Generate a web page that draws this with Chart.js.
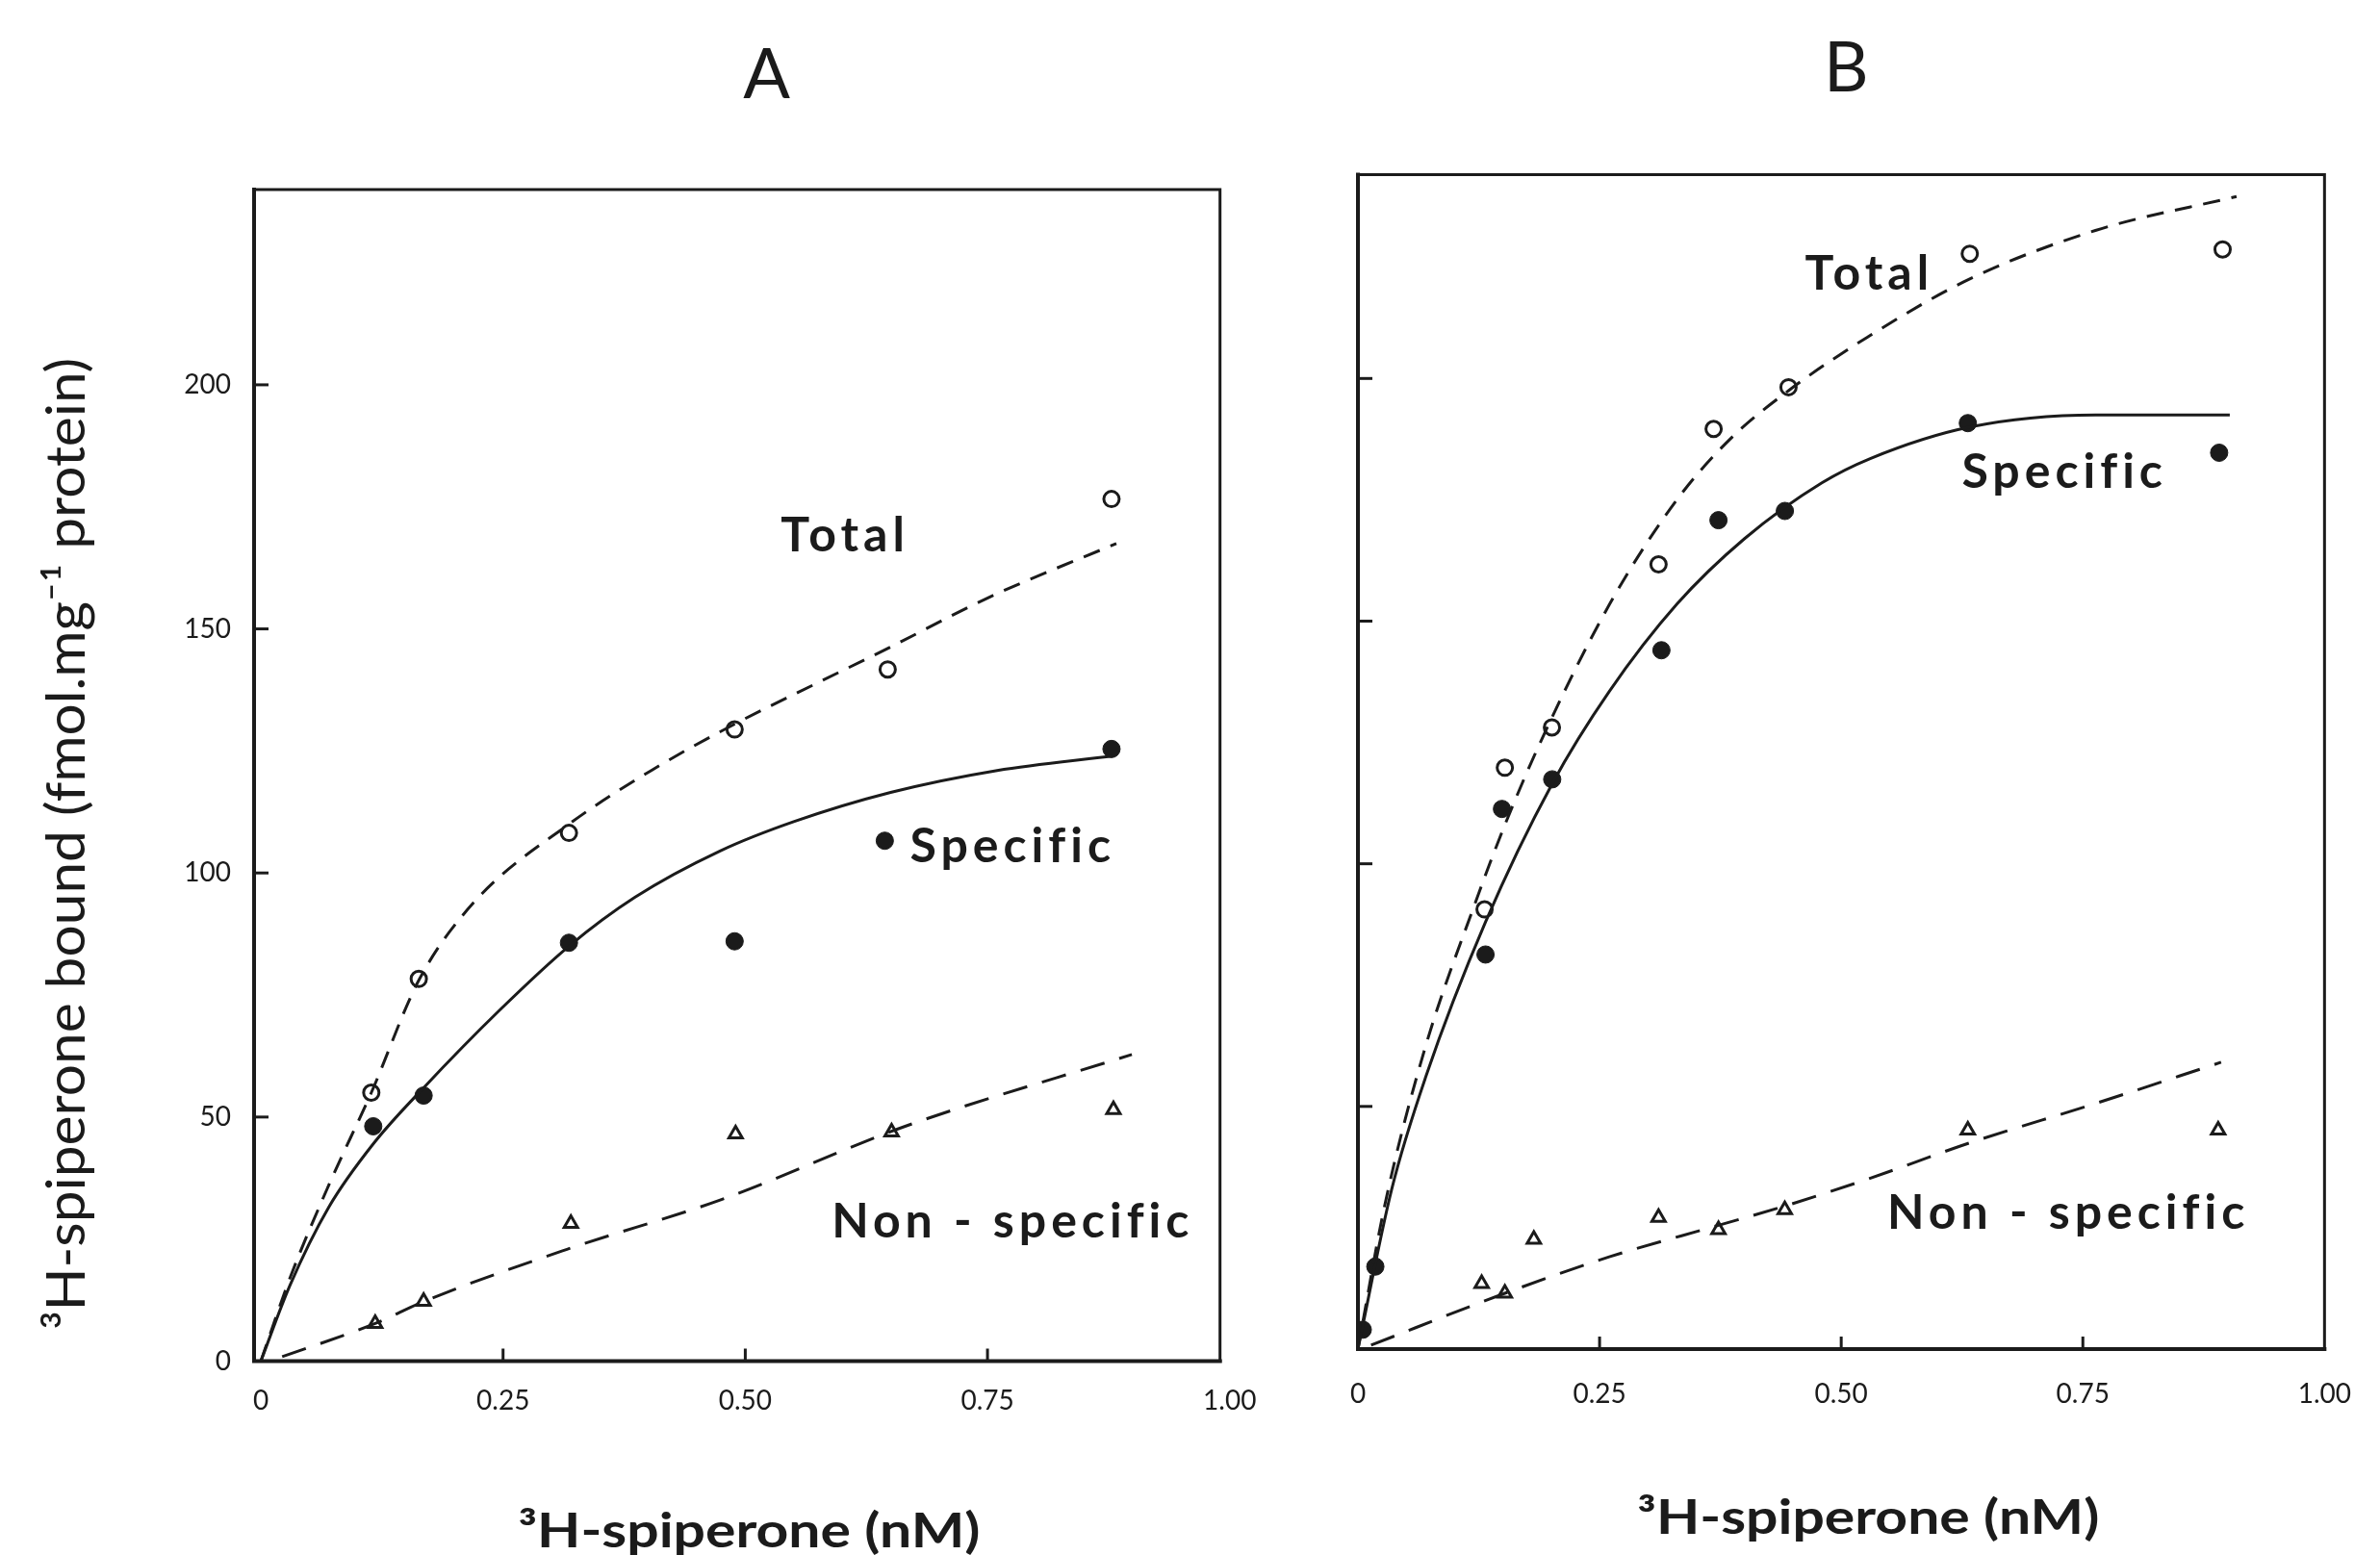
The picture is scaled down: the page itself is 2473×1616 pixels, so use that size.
<!DOCTYPE html>
<html>
<head>
<meta charset="utf-8">
<script src="https://cdn.jsdelivr.net/npm/chart.js@4.4.1/dist/chart.umd.min.js"></script>
<style>
  html, body { margin: 0; padding: 0; background: #fff; }
  body { width: 2473px; height: 1616px; position: relative; overflow: hidden; }
  .panel { position: absolute; top: 0; height: 1616px; }
  #panelA { left: 0; width: 1330px; }
  #panelB { left: 1330px; width: 1143px; }
</style>
</head>
<body>
<div class="panel" id="panelA"><canvas id="chartA"></canvas></div>
<div class="panel" id="panelB"><canvas id="chartB"></canvas></div>
<script>
'use strict';
// axis ticks
const xTicks = [0, 0.25, 0.5, 0.75, 1.0];
const xTickLabels = ['0', '0.25', '0.50', '0.75', '1.00'];
const yTicks = [0, 50, 100, 150, 200];
const yTickLabels = ['0', '50', '100', '150', '200'];
const xTitle = '³H-spiperone (nM)';
const yTitle = '³H-spiperone bound (fmol.mg⁻¹ protein)';

// Panel A - measured points (nM, fmol/mg protein)
const concA_total = [0.114, 0.163, 0.318, 0.489, 0.647, 0.878];
const boundA_total = [55.0, 78.3, 108.2, 129.4, 141.7, 176.6];
const concA_spec = [0.116, 0.168, 0.318, 0.489, 0.644, 0.878];
const boundA_spec = [48.1, 54.4, 85.7, 86.0, 106.6, 125.4];
const concA_non = [0.118, 0.168, 0.320, 0.490, 0.651, 0.880];
const boundA_non = [7.7, 12.2, 28.2, 46.5, 46.9, 51.5];

// Panel A - fitted curves
const fitA_total_x = [0, 0.03, 0.07, 0.114, 0.163, 0.22, 0.318, 0.403, 0.489, 0.57, 0.647, 0.752, 0.883];
const fitA_total_y = [0, 17, 36, 55, 78, 94, 110, 121, 130.5, 138.5, 146, 156.5, 167.5];
const fitA_spec_x = [0, 0.03, 0.07, 0.116, 0.168, 0.247, 0.318, 0.386, 0.474, 0.55, 0.65, 0.76, 0.88];
const fitA_spec_y = [0, 15.5, 31.5, 44.5, 56, 72, 85, 95, 104.5, 110.5, 116.5, 121, 124];
const fitA_non_x = [0.022, 0.118, 0.168, 0.316, 0.474, 0.665, 0.899];
const fitA_non_y = [0.9, 7.7, 12.2, 22.9, 33.0, 48.1, 62.8];

// Panel B - measured points
const concB_total = [0.131, 0.152, 0.2007, 0.311, 0.368, 0.4455, 0.633, 0.8946];
const boundB_total = [90.6, 119.8, 128.1, 161.7, 189.6, 198.2, 225.7, 226.6];
const concB_spec = [0.005, 0.018, 0.132, 0.149, 0.201, 0.314, 0.373, 0.4417, 0.631, 0.891];
const boundB_spec = [4, 17, 81.3, 111.3, 117.4, 144, 170.8, 172.7, 190.8, 184.7];
const concB_non = [0.128, 0.152, 0.182, 0.311, 0.373, 0.4416, 0.631, 0.890];
const boundB_non = [13.5, 11.5, 22.6, 27.1, 24.6, 28.7, 45.1, 45.1];

// Panel B - fitted curves
const fitB_total_x = [0, 0.0276, 0.0694, 0.1215, 0.152, 0.191, 0.2604, 0.33, 0.385, 0.4455, 0.527, 0.633, 0.763, 0.909];
const fitB_total_y = [0, 29.5, 62, 92, 108, 126, 153.5, 175, 187.5, 197.5, 208.5, 220.5, 230.5, 237.5];
const fitB_spec_x = [0, 0.035, 0.07, 0.132, 0.201, 0.26, 0.33, 0.4, 0.48, 0.53, 0.633, 0.763, 0.902];
const fitB_spec_y = [0, 33, 56, 88, 116.5, 135.5, 153.5, 167, 178.5, 183.5, 190, 192.5, 192.5];
const fitB_non_x = [0.0136, 0.152, 0.26, 0.373, 0.442, 0.527, 0.633, 0.763, 0.893];
const fitB_non_y = [0.8, 11.5, 19, 25.5, 29.5, 35, 42.5, 50.6, 59.1];

// curve labels, anchored in data units
const curveLabels = ['Total', 'Specific', 'Non - specific'];
const labelA_x = [0.603, 0.776, 0.776];
const labelA_y = [169, 105.3, 28.6];
const labelB_x = [0.529, 0.731, 0.735];
const labelB_y = [221.6, 180.6, 27.9];

const INK = '#1b1b1b';
const FONT = 'Lato, "Open Sans", sans-serif';

function pts(xs, ys) {
  return xs.map((x, i) => ({x: x, y: ys[i]}));
}

// write centred text stretched to a given length
function stretchedText(ctx, txt, x, y, len) {
  const w = ctx.measureText(txt).width;
  ctx.save();
  ctx.translate(x, y);
  ctx.scale(len / w, 1);
  ctx.textAlign = 'center';
  ctx.fillText(txt, 0, 0);
  ctx.restore();
}

// box, inward ticks, curve labels, axis titles and panel letter
const framePlugin = {
  id: 'frame',
  afterDatasetsDraw(chart, args, o) {
    const ctx = chart.ctx;
    const a = chart.chartArea;
    const xs = chart.scales.x, ys = chart.scales.y;
    ctx.save();
    ctx.strokeStyle = INK;
    ctx.lineCap = 'square';
    ctx.lineWidth = 4;
    ctx.beginPath();
    ctx.moveTo(a.left, a.top);
    ctx.lineTo(a.left, a.bottom);
    ctx.lineTo(a.right, a.bottom);
    ctx.stroke();
    ctx.lineWidth = 3;
    ctx.beginPath();
    ctx.moveTo(a.left, a.top);
    ctx.lineTo(a.right, a.top);
    ctx.lineTo(a.right, a.bottom);
    ctx.stroke();

    ctx.lineCap = 'butt';
    xs.ticks.forEach(t => {
      if (t.value <= xs.min + 0.02 || t.value >= xs.max) return;
      const px = xs.getPixelForValue(t.value);
      ctx.beginPath(); ctx.moveTo(px, a.bottom); ctx.lineTo(px, a.bottom - 13); ctx.stroke();
    });
    ys.ticks.forEach(t => {
      if (t.value <= ys.min || t.value >= ys.max) return;
      const py = ys.getPixelForValue(t.value);
      ctx.beginPath(); ctx.moveTo(a.left, py); ctx.lineTo(a.left + 15, py); ctx.stroke();
    });

    ctx.fillStyle = INK;
    ctx.textAlign = 'center';
    ctx.textBaseline = 'middle';
    ctx.font = 'bold 50px ' + FONT;
    ctx.letterSpacing = '5px';
    o.labels.forEach((txt, i) => {
      ctx.fillText(txt, xs.getPixelForValue(o.lx[i]), ys.getPixelForValue(o.ly[i]));
    });
    ctx.letterSpacing = '0px';
    ctx.font = '72px ' + FONT;
    ctx.fillText(o.letter, xs.getPixelForValue(o.letterX), a.top - o.letterRise);

    // x axis title
    ctx.font = 'bold 50px ' + FONT;
    stretchedText(ctx, xTitle, xs.getPixelForValue(o.xTitleX), a.bottom + o.xTitleDrop, 480);

    // y axis title, rotated
    if (o.yTitleOn) {
      ctx.save();
      ctx.translate(a.left - o.yTitleGap, ys.getPixelForValue(o.yTitleY));
      ctx.rotate(-Math.PI / 2);
      ctx.font = '56px ' + FONT;
      stretchedText(ctx, yTitle, 0, 0, 1010);
      ctx.restore();
    }
    ctx.restore();
  }
};

function makePanel(id, cfg) {
  const tickFont = {family: FONT, size: 28};
  const datasets = [
    {data: pts(cfg.fitTotal[0], cfg.fitTotal[1]), showLine: true, pointRadius: 0, borderColor: INK,
     borderWidth: 3, borderDash: [18, 12], cubicInterpolationMode: 'monotone', fill: false},
    {data: pts(cfg.fitSpec[0], cfg.fitSpec[1]), showLine: true, pointRadius: 0, borderColor: INK,
     borderWidth: 3, cubicInterpolationMode: 'monotone', fill: false},
    {data: pts(cfg.fitNon[0], cfg.fitNon[1]), showLine: true, pointRadius: 0, borderColor: INK,
     borderWidth: 3, borderDash: [26, 16], cubicInterpolationMode: 'monotone', fill: false},
    {data: pts(cfg.total[0], cfg.total[1]), pointStyle: 'circle', pointRadius: 8,
     pointBackgroundColor: '#fff', pointBorderColor: INK, pointBorderWidth: 3},
    {data: pts(cfg.spec[0], cfg.spec[1]), pointStyle: 'circle', pointRadius: 9,
     pointBackgroundColor: INK, pointBorderColor: INK, pointBorderWidth: 1},
    {data: pts(cfg.non[0], cfg.non[1]), pointStyle: 'triangle', pointRadius: 8,
     pointBackgroundColor: '#fff', pointBorderColor: INK, pointBorderWidth: 3}
  ];
  return new Chart(document.getElementById(id), {
    type: 'scatter',
    data: {datasets: datasets},
    plugins: [framePlugin],
    options: {
      responsive: true,
      maintainAspectRatio: false,
      animation: false,
      layout: {padding: {top: cfg.top, right: cfg.right, bottom: 0, left: 0}},
      plugins: {
        legend: {display: false},
        tooltip: {enabled: false},
        frame: {labels: curveLabels, lx: cfg.lx, ly: cfg.ly, letter: cfg.letter,
                letterX: cfg.letterX, letterRise: cfg.letterRise,
                xTitleX: cfg.xTitleX, xTitleDrop: cfg.xTitleDrop,
                yTitleOn: cfg.yLabels, yTitleY: 106, yTitleGap: 194}
      },
      scales: {
        x: {
          type: 'linear', min: cfg.xMin, max: cfg.xMax,
          afterBuildTicks: s => { s.ticks = xTicks.map(v => ({value: v})); },
          afterFit: s => { s.height = cfg.xHeight; },
          grid: {display: false, drawTicks: false},
          border: {display: false},
          ticks: {padding: cfg.xPad, font: tickFont, color: INK, maxRotation: 0, autoSkip: false,
                  callback: (v, i) => xTickLabels[i]}
        },
        y: {
          type: 'linear', min: 0, max: cfg.yMax,
          afterBuildTicks: s => { s.ticks = yTicks.map(v => ({value: v})); },
          afterFit: s => { s.width = cfg.yWidth; },
          grid: {display: false, drawTicks: false},
          border: {display: false},
          ticks: {display: cfg.yLabels, padding: 24, font: tickFont, color: INK,
                  callback: (v, i) => yTickLabels[i]}
        }
      }
    }
  });
}

makePanel('chartA', {
  total: [concA_total, boundA_total], spec: [concA_spec, boundA_spec], non: [concA_non, boundA_non],
  fitTotal: [fitA_total_x, fitA_total_y], fitSpec: [fitA_spec_x, fitA_spec_y], fitNon: [fitA_non_x, fitA_non_y],
  lx: labelA_x, ly: labelA_y, letter: 'A', letterX: 0.522, letterRise: 118,
  xTitleX: 0.504, xTitleDrop: 177,
  xMin: -0.007, xMax: 0.99, yMax: 240, top: 197, right: 42, xHeight: 201.5, yWidth: 264,
  xPad: 25, yLabels: true
});

makePanel('chartB', {
  total: [concB_total, boundB_total], spec: [concB_spec, boundB_spec], non: [concB_non, boundB_non],
  fitTotal: [fitB_total_x, fitB_total_y], fitSpec: [fitB_spec_x, fitB_spec_y], fitNon: [fitB_non_x, fitB_non_y],
  lx: labelB_x, ly: labelB_y, letter: 'B', letterX: 0.505, letterRise: 110,
  xTitleX: 0.528, xTitleDrop: 176,
  xMin: 0, xMax: 1.0, yMax: 242, top: 181.5, right: 34, xHeight: 214, yWidth: 81,
  xPad: 30, yLabels: false
});
</script>
</body>
</html>
